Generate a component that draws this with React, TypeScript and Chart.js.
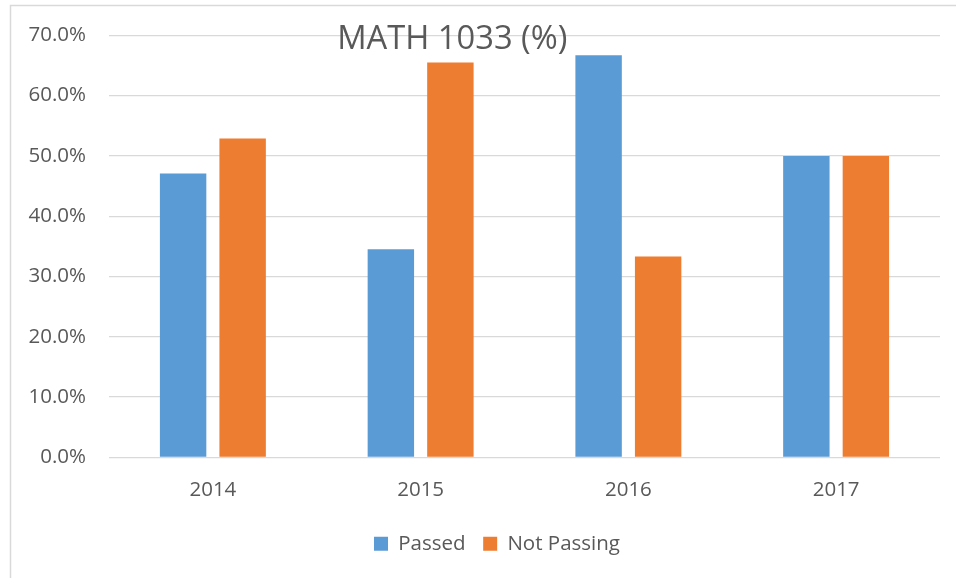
import React, { useEffect, useRef } from "react";
import { Chart, registerables } from "chart.js";

Chart.register(...registerables);

const categories = ["2014", "2015", "2016", "2017"];
const passed = [47.1, 34.5, 66.7, 50.0];
const notPassing = [52.9, 65.5, 33.3, 50.0];
const chartTitle = "MATH 1033 (%)";
const seriesNames = ["Passed", "Not Passing"];

const FONT = "'Open Sans', sans-serif";
const TEXT = "#595959";

const framePlugin = {
  id: "frame",
  beforeDraw(chart: any) {
    const ctx = chart.ctx;
    ctx.save();
    ctx.fillStyle = "#ffffff";
    ctx.fillRect(0, 0, chart.width, chart.height);
    ctx.strokeStyle = "#d9d9d9";
    ctx.lineWidth = 1.5;
    ctx.strokeRect(10.5, 5.5, 1200, 1200);
    ctx.restore();
  },
};

// shift the bottom legend so it is centred like the reference (right of page centre)
const legendShiftPlugin = {
  id: "legendShift",
  afterLayout(chart: any) {
    const lg = chart.legend;
    if (lg) {
      lg.left += 21;
      lg.right += 21;
    }
  },
};

const titlePlugin = {
  id: "overTitle",
  afterDraw(chart: any) {
    const ctx = chart.ctx;
    ctx.save();
    ctx.font = `32.7px ${FONT}`;
    ctx.fillStyle = TEXT;
    ctx.textAlign = "center";
    ctx.textBaseline = "alphabetic";
    ctx.fillText(chartTitle, 452.3, 49.3);
    ctx.restore();
  },
};

export default function App() {
  const ref = useRef<HTMLCanvasElement>(null);
  useEffect(() => {
    if (!ref.current) return;
    const chart = new Chart(ref.current, {
      type: "bar",
      data: {
        labels: categories,
        datasets: [
          {
            label: seriesNames[0],
            data: passed,
            backgroundColor: "#5B9BD5",
            categoryPercentage: 0.573,
            barPercentage: 0.78,
          },
          {
            label: seriesNames[1],
            data: notPassing,
            backgroundColor: "#ED7D31",
            categoryPercentage: 0.573,
            barPercentage: 0.78,
          },
        ],
      },
      options: {
        responsive: false,
        animation: false,
        devicePixelRatio: 1,
        layout: { padding: { left: 12, right: 16, top: 33.5, bottom: 14 } },
        plugins: {
          title: { display: false },
          tooltip: { enabled: false },
          legend: {
            position: "bottom",
            labels: {
              boxWidth: 14,
              boxHeight: 14,
              padding: 17.6,
              color: TEXT,
              font: { family: FONT, size: 20.5 },
            },
          },
        },
        scales: {
          x: {
            grid: { display: false, drawTicks: false },
            border: { display: false },
            ticks: {
              color: TEXT,
              padding: 20,
              font: { family: FONT, size: 20.5 },
            },
            afterFit(scale: any) {
              scale.height = 58.5;
            },
          },
          y: {
            min: 0,
            max: 70,
            grid: { color: "#d9d9d9", lineWidth: 1.3, drawTicks: false },
            border: { display: false },
            ticks: {
              stepSize: 10,
              color: TEXT,
              padding: 23,
              font: { family: FONT, size: 20.5 },
              callback: (v: any) => Number(v).toFixed(1) + "%",
            },
            afterFit(scale: any) {
              scale.width = 97;
            },
          },
        },
      },
      plugins: [framePlugin, legendShiftPlugin, titlePlugin],
    });
    return () => chart.destroy();
  }, []);
  return (
    <div style={{ position: "absolute", left: 0, top: 0, width: 956, height: 578, overflow: "hidden" }}>
      <canvas ref={ref} width={956} height={578} style={{ display: "block" }} />
    </div>
  );
}
